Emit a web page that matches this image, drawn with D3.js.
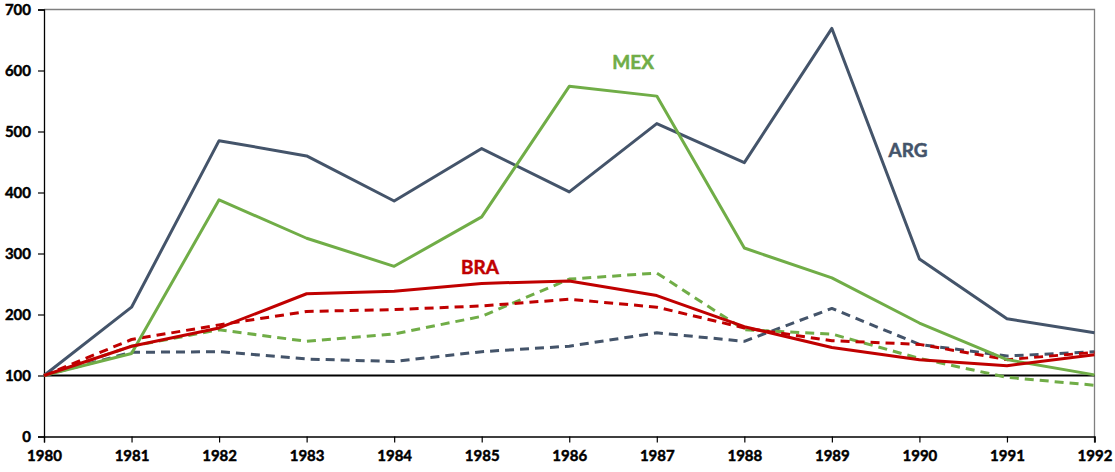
<!DOCTYPE html>
<html><head><meta charset="utf-8">
<script src="https://cdn.jsdelivr.net/npm/d3@7"></script>
<style>html,body{margin:0;padding:0;background:#fff;}svg{display:block;}</style>
</head><body>
<svg id="c" width="1115" height="472"></svg>
<script>
const years = [1980,1981,1982,1983,1984,1985,1986,1987,1988,1989,1990,1991,1992];
const yTicks = [0,100,200,300,400,500,600,700];
const argSolid = [100,212,485,460,386,472,401,513,449,669,291,193,170];
const mexSolid = [100,136,388,325,279,360,574,558,309,260,186,126,101];
const braSolid = [100,148,178,234,238,251,255,231,180,146,126,116,134];
const argDash  = [100,138,139,127,123,139,148,170,156,210,151,132,139];
const mexDash  = [100,148,175,156,168,197,258,268,175,168,128,97,84];
const braDash  = [100,159,183,205,208,214,225,212,178,157,151,126,138];
const labels = [{t:"MEX", year:1986.73, v:610, c:"#70ad47"},
                {t:"BRA", year:1984.98, v:274, c:"#c00000"},
                {t:"ARG", year:1989.87, v:467, c:"#44546a"}];

const svg = d3.select("#c");
const L=44, R=1094.5, T=9.5, B=436.5;
const x = d3.scaleLinear().domain([1980,1992]).range([L,R]);
const y = d3.scaleLinear().domain([0,700]).range([B,T]);
const font = "Lato, 'Open Sans', sans-serif";

// frame top & right
svg.append("path").attr("d",`M${L},${T}H${R}V${B+6}`).attr("fill","none").attr("stroke","#7f7f7f").attr("stroke-width",1.3);

// y axis
const ya = svg.append("g").attr("transform",`translate(${L},0)`).call(d3.axisLeft(y).tickValues(yTicks).tickSize(6).tickFormat(d3.format("d")));
ya.select(".domain").attr("stroke","#000").attr("stroke-width",1.3);
ya.selectAll(".tick line").attr("stroke","#000").attr("stroke-width",1.2);
ya.selectAll("text").attr("font-family",font).attr("font-weight","bold").attr("font-size",15).attr("fill","#000")
  .attr("stroke","#000").attr("stroke-width",0.45).attr("x",-13);

// x axis
const xa = svg.append("g").attr("transform",`translate(0,${B})`).call(d3.axisBottom(x).tickValues(years).tickSize(6).tickFormat(d3.format("d")));
xa.select(".domain").attr("stroke","#000").attr("stroke-width",1.3);
xa.selectAll(".tick line").attr("stroke","#000").attr("stroke-width",1.2);
xa.selectAll("text").attr("font-family",font).attr("font-weight","bold").attr("font-size",15).attr("fill","#000")
  .attr("stroke","#000").attr("stroke-width",0.45).attr("dy","1.05em").attr("y",9);

// baseline 100
svg.append("line").attr("x1",L).attr("x2",R).attr("y1",y(100)).attr("y2",y(100)).attr("stroke","#000").attr("stroke-width",2.2);

const line = d3.line().x((d,i)=>x(years[i])).y(d=>y(d));
const series = [
  {d:argDash, c:"#44546a", dash:"9,6"},
  {d:mexDash, c:"#70ad47", dash:"9,6"},
  {d:braDash, c:"#c00000", dash:"9,6"},
  {d:argSolid, c:"#44546a", dash:null},
  {d:mexSolid, c:"#70ad47", dash:null},
  {d:braSolid, c:"#c00000", dash:null}
];
series.forEach(s=>{
  svg.append("path").attr("d",line(s.d)).attr("fill","none").attr("stroke",s.c)
    .attr("stroke-width",3).attr("stroke-linejoin","round")
    .attr("stroke-dasharray",s.dash);
});

labels.forEach(l=>{
  svg.append("text").attr("x",x(l.year)).attr("y",y(l.v)).attr("text-anchor","middle")
    .attr("dominant-baseline","middle").attr("font-family",font).attr("font-weight","bold")
    .attr("font-size",19).attr("fill",l.c).attr("stroke",l.c).attr("stroke-width",0.5).text(l.t);
});
</script>
</body></html>
